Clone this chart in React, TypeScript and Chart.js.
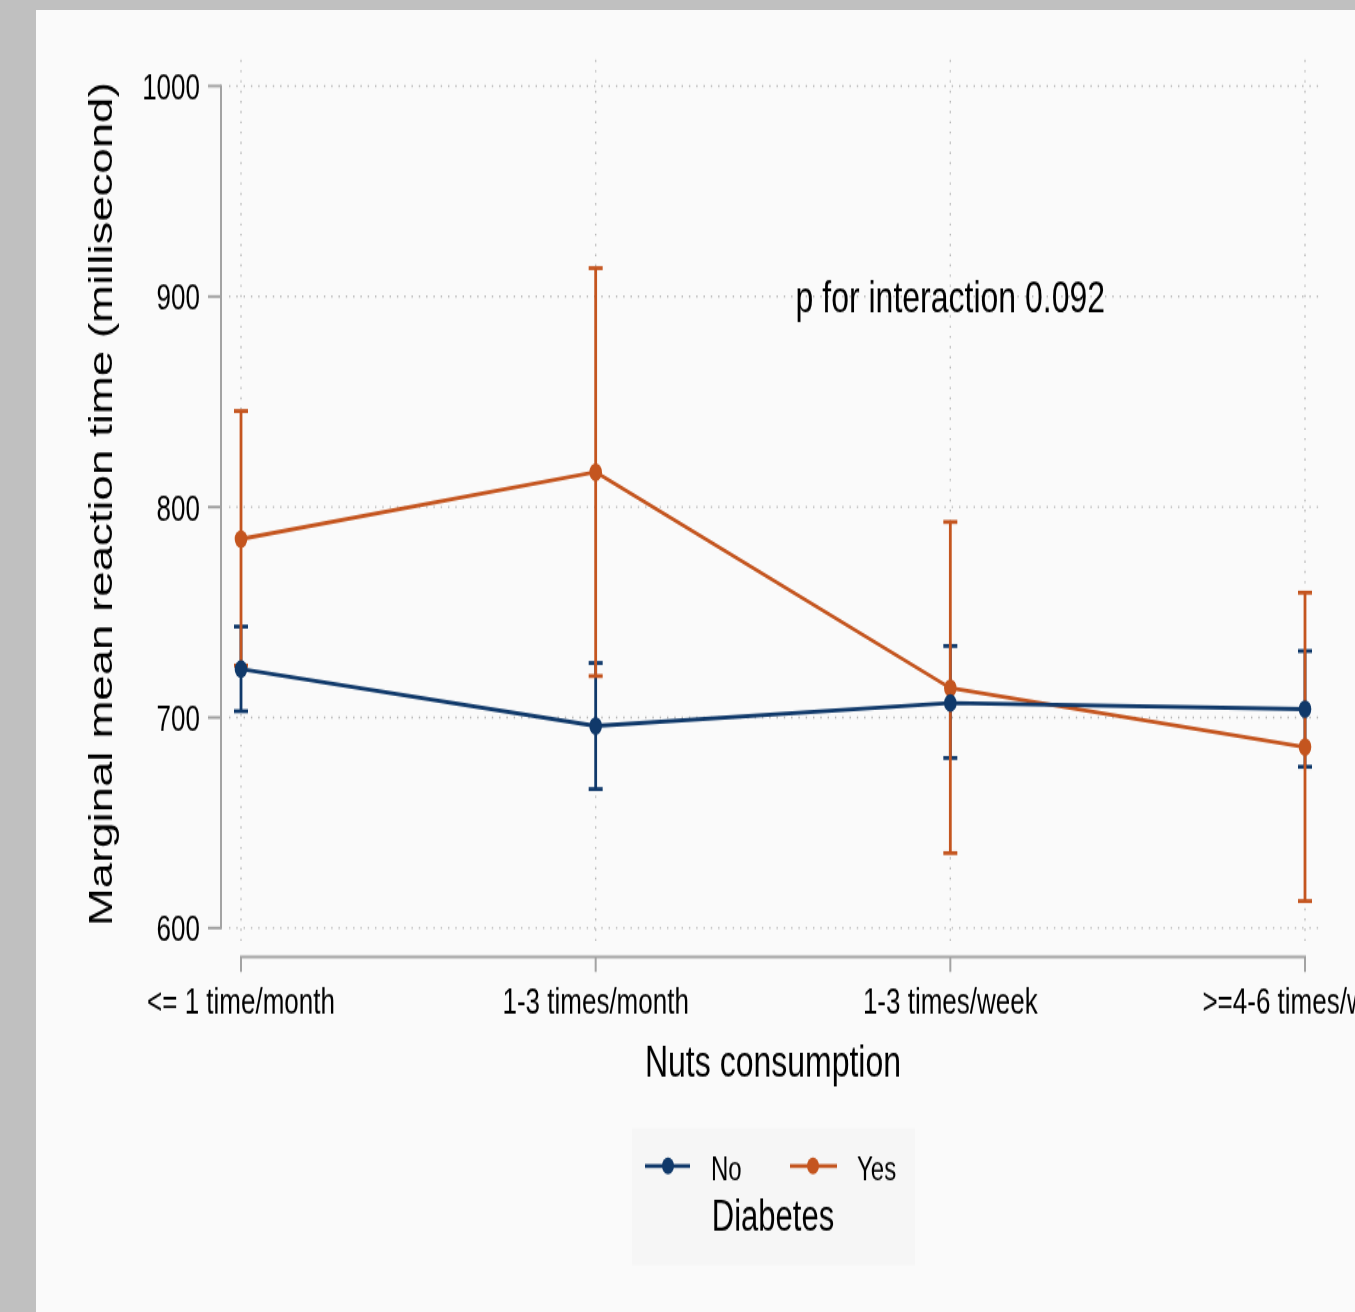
import React, { useEffect, useRef } from 'react';
import { Chart, registerables } from 'chart.js';

Chart.register(...registerables);

// ---- data ----
const categories = ['<= 1 time/month', '1-3 times/month', '1-3 times/week', '>=4-6 times/week'];
const yTicks = [600, 700, 800, 900, 1000];
const seriesLabels = ['No', 'Yes'];
const noMean = [723.0, 696.0, 706.9, 704.0];
const noLower = [703.0, 666.0, 680.8, 676.6];
const noUpper = [743.2, 725.9, 734.0, 731.6];
const yesMean = [784.8, 816.6, 714.0, 686.0];
const yesLower = [724.7, 719.7, 635.6, 612.8];
const yesUpper = [845.6, 913.5, 792.9, 759.3];
const legendTitle = 'Diabetes';
const xTitle = 'Nuts consumption';
const yTitle = 'Marginal mean reaction time (millisecond)';
const annotationText = 'p for interaction 0.092';
const annotationX = 2;
const annotationY = 900;

// ---- style ----
const NAVY = '#10396a';
const ORANGE = '#c4551f';
const FONT = '"Liberation Sans", Arial, Helvetica, sans-serif';
const STRETCH = 1.4; // vertical stretch of the whole picture
const CANVAS_W = 1600;
const CANVAS_H = 938;

const lowers = [noLower, yesLower];
const uppers = [noUpper, yesUpper];
const colors = [NAVY, ORANGE];

function seg(ctx: CanvasRenderingContext2D, x1: number, y1: number, x2: number, y2: number) {
  ctx.beginPath();
  ctx.moveTo(x1, y1);
  ctx.lineTo(x2, y2);
  ctx.stroke();
}

const decorPlugin = {
  id: 'stataDecor',
  beforeDatasetsDraw(chart: any) {
    const { ctx, chartArea } = chart;
    const xs = chart.scales.x;
    const ys = chart.scales.y;
    const n = categories.length;
    const xFirst = xs.getPixelForValue(0);
    const xLast = xs.getPixelForValue(n - 1);
    const yMinPx = ys.getPixelForValue(yTicks[0]);
    const yMaxPx = ys.getPixelForValue(yTicks[yTicks.length - 1]);
    ctx.save();

    // dotted grid
    ctx.strokeStyle = '#b9b9b9';
    ctx.lineWidth = 1.4;
    ctx.setLineDash([1.4, 5.9]);
    yTicks.forEach((v) => {
      const py = ys.getPixelForValue(v);
      seg(ctx, chartArea.left + 8, py, chartArea.right, py);
    });
    categories.forEach((_, i) => {
      const px = xs.getPixelForValue(i);
      seg(ctx, px, chartArea.top, px, chartArea.bottom);
    });
    ctx.setLineDash([]);

    // axes
    ctx.strokeStyle = '#a3a3a3';
    ctx.lineWidth = 2;
    const axX = chartArea.left;
    seg(ctx, axX, yMaxPx - 1, axX, yMinPx + 1);
    yTicks.forEach((v) => {
      const py = ys.getPixelForValue(v);
      seg(ctx, axX - 13, py, axX, py);
    });
    const axY = yMinPx + 20.7;
    seg(ctx, xFirst - 1, axY, xLast + 1, axY);
    categories.forEach((_, i) => {
      const px = xs.getPixelForValue(i);
      seg(ctx, px, axY, px, axY + 10.7);
    });

    // tick labels
    ctx.fillStyle = '#000';
    ctx.font = `26px ${FONT}`;
    ctx.textAlign = 'right';
    ctx.textBaseline = 'alphabetic';
    yTicks.forEach((v) => {
      const py = ys.getPixelForValue(v);
      ctx.fillText(String(v), axX - 21, py + 9.4);
    });
    ctx.textAlign = 'center';
    categories.forEach((c, i) => {
      ctx.fillText(c, xs.getPixelForValue(i), axY + 40.7);
    });

    // axis titles
    ctx.font = `32px ${FONT}`;
    ctx.fillText(xTitle, (xFirst + xLast) / 2, axY + 85.4);
    ctx.save();
    ctx.translate(112, (yMinPx + yMaxPx) / 2 - 2);
    ctx.rotate(-Math.PI / 2);
    ctx.textAlign = 'center';
    ctx.font = `32.6px ${FONT}`;
    ctx.fillText(yTitle, 0, 0);
    ctx.restore();

    // annotation
    ctx.font = `32px ${FONT}`;
    ctx.textAlign = 'center';
    ctx.fillText(annotationText, xs.getPixelForValue(annotationX), ys.getPixelForValue(annotationY) + 10.8);

    // legend
    const midX = (xFirst + xLast) / 2;
    const boxTop = axY + 122.1;
    ctx.fillStyle = '#f6f6f6';
    ctx.fillRect(midX - 141, boxTop, 283, 98);
    const itemY = boxTop + 27.2;
    const items = [
      { l1: midX - 128, l2: midX - 83, m: midX - 105, t: midX - 62 },
      { l1: midX + 17, l2: midX + 64, m: midX + 40, t: midX + 84 },
    ];
    items.forEach((it, i) => {
      ctx.strokeStyle = colors[i];
      ctx.lineWidth = 2.8;
      seg(ctx, it.l1, itemY, it.l2, itemY);
      ctx.fillStyle = colors[i];
      ctx.beginPath();
      ctx.arc(it.m, itemY, 6, 0, Math.PI * 2);
      ctx.fill();
      ctx.fillStyle = '#000';
      ctx.font = `24px ${FONT}`;
      ctx.textAlign = 'left';
      ctx.fillText(seriesLabels[i], it.t, itemY + 10);
    });
    ctx.font = `31px ${FONT}`;
    ctx.textAlign = 'center';
    ctx.fillText(legendTitle, midX, boxTop + 72.9);

    // error bars
    ctx.lineWidth = 2.8;
    for (let s = 0; s < 2; s++) {
      ctx.strokeStyle = colors[s];
      categories.forEach((_, i) => {
        const px = xs.getPixelForValue(i);
        const pLo = ys.getPixelForValue(lowers[s][i]);
        const pHi = ys.getPixelForValue(uppers[s][i]);
        seg(ctx, px, pLo, px, pHi);
        seg(ctx, px - 7, pLo, px + 7, pLo);
        seg(ctx, px - 7, pHi, px + 7, pHi);
      });
    }
    ctx.restore();
  },
};

export default function App() {
  const ref = useRef<HTMLCanvasElement | null>(null);

  useEffect(() => {
    document.body.style.margin = '0';
    if (!ref.current) return;
    const chart = new Chart(ref.current, {
      type: 'line',
      data: {
        datasets: [
          {
            label: seriesLabels[0],
            data: noMean.map((v, i) => ({ x: i, y: v })),
            borderColor: NAVY,
            backgroundColor: NAVY,
            pointBackgroundColor: NAVY,
            borderWidth: 2.8,
            pointRadius: 6.3,
            pointBorderWidth: 0,
            tension: 0,
          },
          {
            label: seriesLabels[1],
            data: yesMean.map((v, i) => ({ x: i, y: v })),
            borderColor: ORANGE,
            backgroundColor: ORANGE,
            pointBackgroundColor: ORANGE,
            borderWidth: 2.8,
            pointRadius: 6.3,
            pointBorderWidth: 0,
            tension: 0,
          },
        ],
      },
      options: {
        responsive: false,
        animation: false,
        devicePixelRatio: 1,
        layout: { padding: { left: 221, right: CANVAS_W - 1320, top: 42.86, bottom: CANVAS_H - 676 } },
        scales: {
          x: { type: 'linear', display: false, min: -0.0564, max: 3.0423 },
          y: { type: 'linear', display: false, min: 591.26, max: 1012.35 },
        },
        plugins: {
          legend: { display: false },
          tooltip: { enabled: false },
        },
      },
      plugins: [decorPlugin],
    });
    return () => chart.destroy();
  }, []);

  return (
    <div style={{ position: 'fixed', left: 0, top: 0, width: 1355, height: 1312, overflow: 'hidden', background: '#c0c0c0' }}>
      <div style={{ position: 'absolute', left: 36, top: 10, width: 1400, height: 1320, background: '#fafafa' }} />
      <div style={{ position: 'absolute', left: 0, top: 0, transform: `scaleY(${STRETCH})`, transformOrigin: '0 0' }}>
        <canvas ref={ref} width={CANVAS_W} height={CANVAS_H} style={{ display: 'block' }} />
      </div>
    </div>
  );
}
